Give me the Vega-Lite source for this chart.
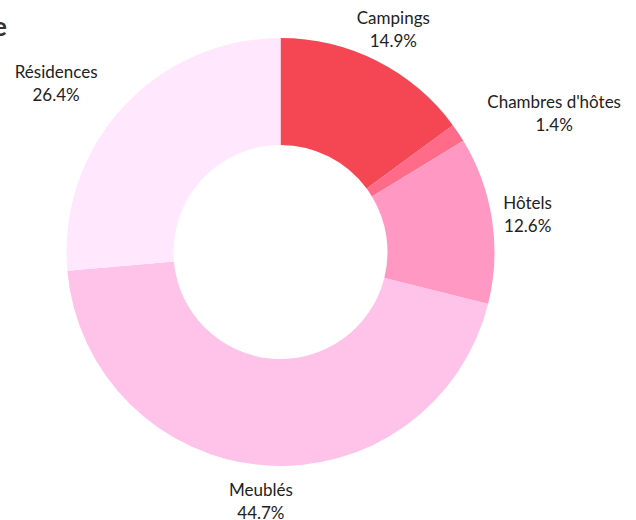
{
  "$schema": "https://vega.github.io/schema/vega-lite/v6.json",
  "width": 561,
  "height": 504,
  "autosize": {"type": "none"},
  "padding": {"left": 0, "top": 0, "right": 75, "bottom": 16},
  "background": "white",
  "config": {"view": {"stroke": null}, "font": "Lato"},
  "title": {"text": "e", "anchor": "start", "frame": "group", "dx": -7, "fontSize": 26, "font": "Lato", "fontWeight": "bold", "color": "#333333", "offset": -62, "baseline": "alphabetic"},
  "data": {"values": [
    {"type": "Campings", "pct": 14.9},
    {"type": "Chambres d'hôtes", "pct": 1.4},
    {"type": "Hôtels", "pct": 12.6},
    {"type": "Meublés", "pct": 44.7},
    {"type": "Résidences", "pct": 26.4}
  ]},
  "transform": [{"calculate": "datum.type + '\\n' + format(datum.pct, '.1f') + '%'", "as": "label"}],
  "encoding": {
    "theta": {"field": "pct", "type": "quantitative", "stack": true}
  },
  "layer": [
    {
      "mark": {"type": "arc", "radius": 214, "radius2": 107},
      "encoding": {
        "color": {"field": "type", "type": "nominal", "legend": null,
          "scale": {"domain": ["Campings", "Chambres d'hôtes", "Hôtels", "Meublés", "Résidences"],
                    "range": ["#F44653", "#FF6B88", "#FF99C4", "#FFC2E9", "#FFE8FD"]}}
      }
    },
    {
      "mark": {"type": "text", "radius": 250, "align": "center", "baseline": "middle", "dy": -10, "lineBreak": "\n", "fontSize": 17, "lineHeight": 23, "font": "Lato", "color": "#222222"},
      "encoding": {
        "detail": {"field": "type", "type": "nominal"},
        "text": {"condition": {"test": "datum.type === 'Campings' || datum.type === 'Hôtels' || datum.type === 'Meublés'", "field": "label"}, "value": ""}
      }
    },
    {
      "mark": {"type": "text", "radius": 250, "align": "center", "baseline": "middle", "dx": 66, "dy": -10, "lineBreak": "\n", "fontSize": 17, "lineHeight": 23, "font": "Lato", "color": "#222222"},
      "encoding": {
        "detail": {"field": "type", "type": "nominal"},
        "text": {"condition": {"test": "datum.type === \"Chambres d'hôtes\"", "field": "label"}, "value": ""}
      }
    },
    {
      "mark": {"type": "text", "radius": 250, "align": "center", "baseline": "middle", "dx": -40, "dy": -10, "lineBreak": "\n", "fontSize": 17, "lineHeight": 23, "font": "Lato", "color": "#222222"},
      "encoding": {
        "detail": {"field": "type", "type": "nominal"},
        "text": {"condition": {"test": "datum.type === 'Résidences'", "field": "label"}, "value": ""}
      }
    }
  ]
}
